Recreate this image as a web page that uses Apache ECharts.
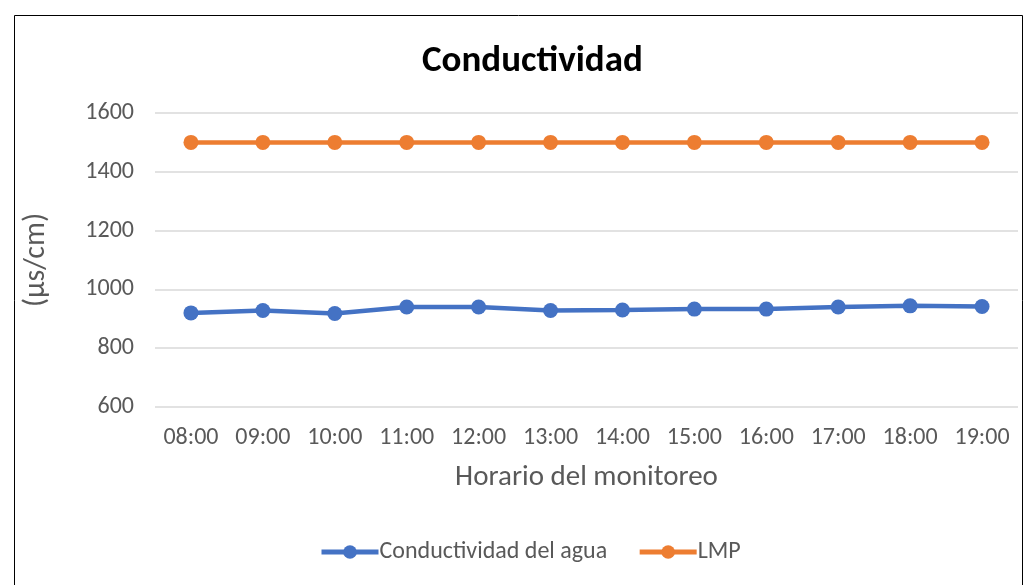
<!DOCTYPE html>
<html>
<head>
<meta charset="utf-8">
<script src="https://cdn.jsdelivr.net/npm/echarts@6/dist/echarts.min.js"></script>
<style>
  html, body { margin: 0; padding: 0; background: #fff; }
  #chart { width: 1036px; height: 585px; }
</style>
</head>
<body>
<div id="chart"></div>
<script>
var horas = ['08:00', '09:00', '10:00', '11:00', '12:00', '13:00', '14:00', '15:00', '16:00', '17:00', '18:00', '19:00'];
var conductividad = [920, 928, 918, 940, 940, 928, 930, 933, 933, 940, 944, 942];
var lmp = [1500, 1500, 1500, 1500, 1500, 1500, 1500, 1500, 1500, 1500, 1500, 1500];

var fuente = 'Carlito, Lato, "Liberation Sans", sans-serif';

var myChart = echarts.init(document.getElementById('chart'));

var option = {
    animation: false,
    textStyle: { fontFamily: fuente },
    title: {
        text: 'Conductividad',
        left: 417,
        top: 38,
        textStyle: { fontSize: 37, fontWeight: 'bold', color: '#000', fontFamily: fuente }
    },
    graphic: [{
        type: 'rect',
        shape: { x: 14.5, y: 15.5, width: 1008, height: 580 },
        style: { fill: 'none', stroke: '#000', lineWidth: 1 },
        silent: true
    }],
    grid: { left: 155, right: 18, top: 113, bottom: 178 },
    legend: {
        bottom: 16,
        left: 314,
        itemWidth: 57,
        itemHeight: 17,
        itemGap: 30,
        lineStyle: { width: 5 },
        textStyle: { fontSize: 24, color: '#595959', fontFamily: fuente, padding: [0, 0, 0, -4] },
        data: ['Conductividad del agua', 'LMP']
    },
    xAxis: {
        type: 'category',
        data: horas,
        name: 'Horario del monitoreo',
        nameLocation: 'middle',
        nameGap: 56,
        nameTextStyle: { fontSize: 29, color: '#595959', fontFamily: fuente },
        axisLine: { show: false },
        axisTick: { show: false },
        axisLabel: { fontSize: 24, color: '#595959', margin: 19, fontFamily: fuente }
    },
    yAxis: {
        type: 'value',
        min: 600,
        max: 1600,
        interval: 200,
        name: '(µs/cm)',
        nameLocation: 'middle',
        nameGap: 104,
        nameRotate: 90,
        nameTextStyle: { fontSize: 30, color: '#595959', fontFamily: fuente },
        axisLabel: {
            fontSize: 24, color: '#595959', margin: 21, fontFamily: fuente,
            formatter: function (v) { return String(v); }
        },
        splitLine: { lineStyle: { color: '#d9d9d9', width: 1.5 } }
    },
    series: [{
        name: 'Conductividad del agua',
        type: 'line',
        data: conductividad,
        symbol: 'circle',
        symbolSize: 15,
        color: '#4472C4',
        lineStyle: { width: 4.5, color: '#4472C4' },
        itemStyle: { color: '#4472C4' }
    }, {
        name: 'LMP',
        type: 'line',
        data: lmp,
        symbol: 'circle',
        symbolSize: 15,
        color: '#ED7D31',
        lineStyle: { width: 4.5, color: '#ED7D31' },
        itemStyle: { color: '#ED7D31' }
    }]
};

myChart.setOption(option);
</script>
</body>
</html>
